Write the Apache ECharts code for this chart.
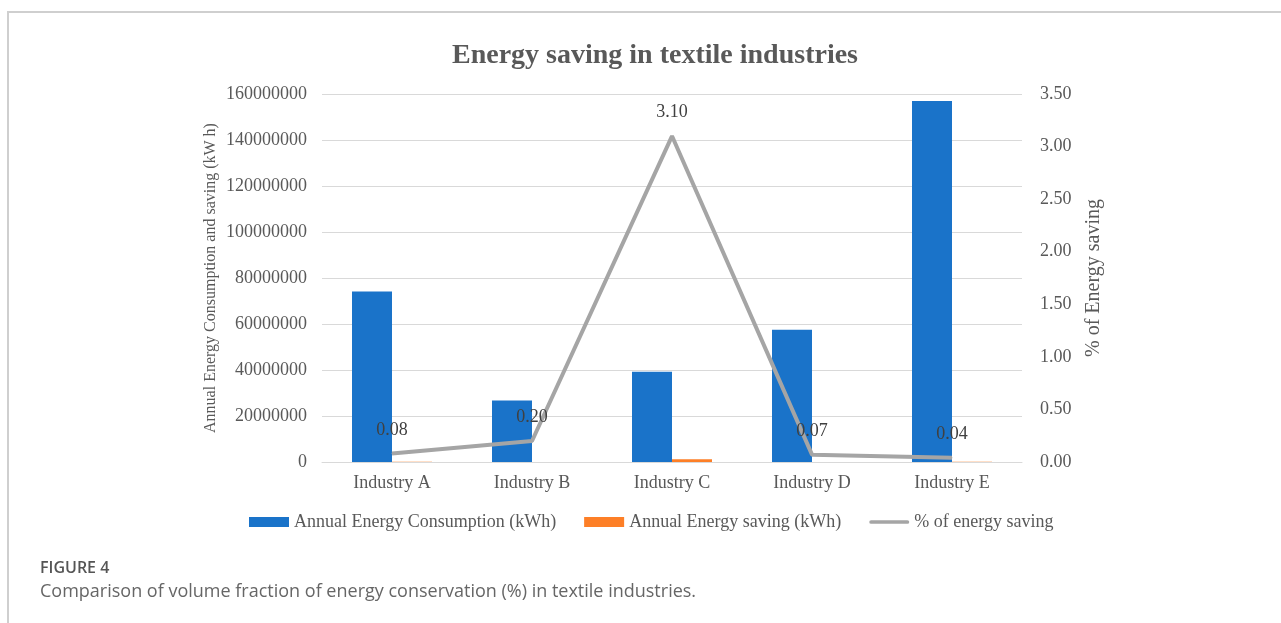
<!DOCTYPE html>
<html>
<head>
<meta charset="utf-8">
<script src="https://cdn.jsdelivr.net/npm/echarts@6/dist/echarts.min.js"></script>
<style>
  html, body { margin: 0; padding: 0; background: #fff; }
  #chart { width: 1281px; height: 623px; }
</style>
</head>
<body>
<div id="chart"></div>
<script>
// values
const industries = ["Industry A", "Industry B", "Industry C", "Industry D", "Industry E"];
const consumption = [74100000, 26700000, 39200000, 57500000, 157000000];
const saving = [59000, 53000, 1215000, 40000, 63000];
const savingPct = [0.08, 0.20, 3.10, 0.07, 0.04];

const serif = "'Liberation Serif', 'Times New Roman', serif";
const grey = "#595959";

const chart = echarts.init(document.getElementById("chart"), null, { renderer: "canvas" });

chart.setOption({
  backgroundColor: "#ffffff",
  animation: false,
  title: {
    text: "Energy saving in textile industries",
    left: 650,
    top: 37,
    textAlign: "center",
    textStyle: { fontFamily: serif, fontSize: 28, fontWeight: "bold", color: grey },
  },
  legend: {
    left: 244,
    top: 508,
    itemWidth: 40,
    itemHeight: 10,
    itemGap: 28,
    textStyle: { fontFamily: serif, fontSize: 18, color: grey },
    data: [
      { name: "Annual Energy Consumption (kWh)", icon: "rect" },
      { name: "Annual Energy saving (kWh)", icon: "rect" },
      { name: "% of energy saving", icon: "path://M2,0 H41 A2,2 0 0 1 41,4 H2 A2,2 0 0 1 2,0 Z" },
    ],
  },
  grid: { left: 322, right: 259, top: 94, bottom: 161 },
  xAxis: {
    type: "category",
    data: industries,
    axisTick: { show: false },
    axisLine: { lineStyle: { color: "#d9d9d9", width: 1 } },
    axisLabel: { fontFamily: serif, fontSize: 18, color: grey, margin: 12 },
  },
  yAxis: [
    {
      type: "value",
      min: 0,
      max: 160000000,
      interval: 20000000,
      name: "Annual Energy Consumption and saving (kW h)",
      nameLocation: "middle",
      nameRotate: 90,
      nameGap: 103,
      nameMoveOverlap: false,
      nameTextStyle: { fontFamily: serif, fontSize: 16, color: grey },
      axisLabel: {
        fontFamily: serif, fontSize: 18, color: grey, margin: 15,
        formatter: (v) => String(v),
      },
      splitLine: { lineStyle: { color: "#d9d9d9", width: 1 } },
    },
    {
      type: "value",
      min: 0,
      max: 3.5,
      interval: 0.5,
      name: "% of Energy saving",
      nameLocation: "middle",
      nameRotate: 90,
      nameGap: 62,
      nameMoveOverlap: false,
      nameTextStyle: { fontFamily: serif, fontSize: 20, color: grey },
      axisLabel: {
        fontFamily: serif, fontSize: 18, color: grey, margin: 18,
        formatter: (v) => v.toFixed(2),
      },
      splitLine: { show: false },
    },
  ],
  series: [
    {
      name: "Annual Energy Consumption (kWh)",
      type: "bar",
      data: consumption,
      barWidth: 40,
      barGap: "0%",
      itemStyle: { color: "#1a73c9" },
    },
    {
      name: "Annual Energy saving (kWh)",
      type: "bar",
      data: saving,
      barWidth: 40,
      itemStyle: { color: "#fd7f27" },
    },
    {
      name: "% of energy saving",
      type: "line",
      yAxisIndex: 1,
      data: savingPct,
      symbol: "circle",
      symbolSize: 1,
      showSymbol: true,
      lineStyle: { color: "#a5a5a5", width: 4 },
      itemStyle: { color: "#a5a5a5" },
      label: {
        show: true,
        position: "top",
        distance: 14,
        fontFamily: serif,
        fontSize: 18,
        color: "#404040",
        formatter: (p) => p.value.toFixed(2),
      },
      z: 5,
    },
  ],
  graphic: [
    {
      type: "polyline",
      shape: { points: [[8, 623], [8, 12], [1281, 12]] },
      style: { stroke: "#cfcfcf", lineWidth: 2, fill: null },
      silent: true,
    },
    {
      type: "text",
      left: 40,
      top: 560,
      style: { text: "FIGURE 4", font: "600 16px 'Open Sans', Lato, sans-serif", fill: "#555555" },
    },
    {
      type: "text",
      left: 40,
      top: 583,
      style: {
        text: "Comparison of volume fraction of energy conservation (%) in textile industries.",
        font: "18px 'Open Sans', Lato, sans-serif",
        fill: "#666666",
      },
    },
  ],
});
</script>
</body>
</html>
